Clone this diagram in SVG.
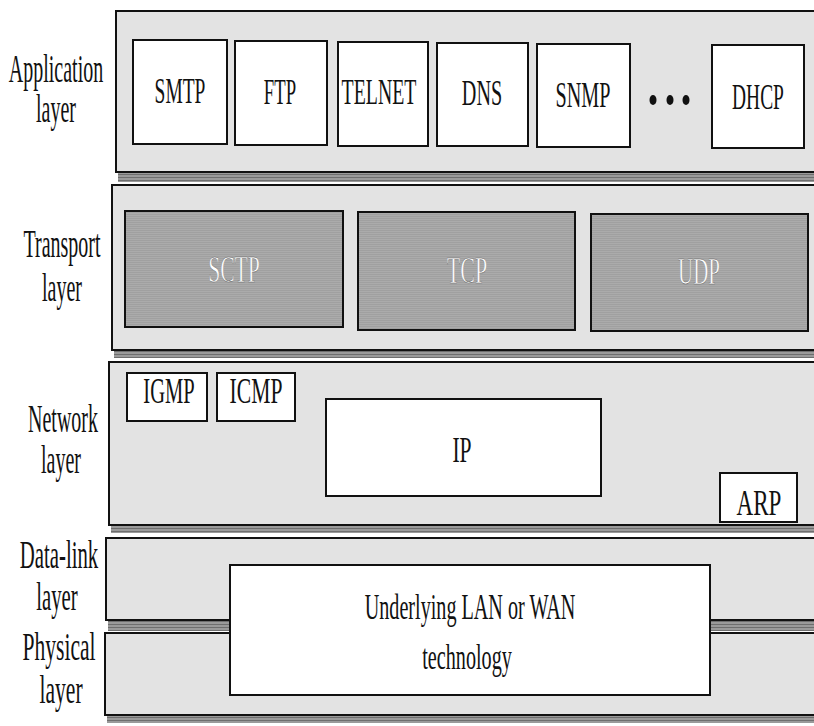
<svg xmlns="http://www.w3.org/2000/svg" width="814" height="726" viewBox="0 0 814 726">
<defs>
<pattern id="hatch" width="3" height="3" patternUnits="userSpaceOnUse">
<rect width="3" height="3" fill="#9a9a9a"/>
<rect width="3" height="1" fill="#6e6e6e"/>
</pattern>
<pattern id="dark" width="4" height="2" patternUnits="userSpaceOnUse">
<rect width="4" height="2" fill="#ababab"/>
<rect width="4" height="1" fill="#a0a0a0"/>
</pattern>
</defs>
<style>
.band{fill:#e3e3e3;stroke:#111;stroke-width:2}
.shadow{fill:url(#hatch);stroke:none}
.box{fill:#fff;stroke:#111;stroke-width:2}
.dbox{fill:url(#dark);stroke:#111;stroke-width:2}
.lbl{font-family:"Liberation Serif","Times New Roman",serif;font-size:40px;fill:#111;text-anchor:middle}
.t{font-family:"Liberation Serif","Times New Roman",serif;font-size:36px;fill:#111;text-anchor:middle}
.tw{font-family:"Liberation Serif","Times New Roman",serif;font-size:38px;fill:#fff;stroke:#666;stroke-width:0.5;text-anchor:middle}
</style>
<rect width="814" height="726" fill="#fff"/>

<g id="application-layer">
<rect class="shadow" x="118" y="172" width="700" height="10"/>
<rect class="band" x="116" y="11" width="704" height="161"/>
<text class="lbl" transform="scale(0.5,1)"><tspan x="112" y="82">Application</tspan><tspan x="112" y="122">layer</tspan></text>
</g>
<g id="smtp"><rect class="box" x="133" y="40" width="94" height="104"/><text class="t" transform="translate(180,103) scale(0.54,1)">SMTP</text></g>
<g id="ftp"><rect class="box" x="235" y="41" width="92" height="104"/><text class="t" transform="translate(280,104) scale(0.52,1)">FTP</text></g>
<g id="telnet"><rect class="box" x="338" y="42" width="90" height="104"/><text class="t" transform="translate(379,104) scale(0.55,1)">TELNET</text></g>
<g id="dns"><rect class="box" x="437" y="43" width="91" height="103"/><text class="t" transform="translate(482,105) scale(0.56,1)">DNS</text></g>
<g id="snmp"><rect class="box" x="537" y="44" width="93" height="103"/><text class="t" transform="translate(583,107) scale(0.56,1)">SNMP</text></g>
<g id="ellipsis" fill="#111"><ellipse cx="653" cy="100" rx="3.5" ry="5"/><ellipse cx="670" cy="100" rx="3.5" ry="5"/><ellipse cx="686" cy="100" rx="3.5" ry="5"/></g>
<g id="dhcp"><rect class="box" x="712" y="45" width="92" height="103"/><text class="t" transform="translate(758,109) scale(0.54,1)">DHCP</text></g>

<g id="transport-layer">
<rect class="shadow" x="114" y="350" width="704" height="8"/>
<rect class="band" x="112" y="185" width="708" height="165"/>
<text class="lbl" transform="scale(0.5,1)"><tspan x="124" y="257">Transport</tspan><tspan x="124" y="301">layer</tspan></text>
</g>
<g id="sctp"><rect class="dbox" x="125" y="211" width="218" height="116"/><text class="tw" transform="translate(234,282) scale(0.57,1)">SCTP</text></g>
<g id="tcp"><rect class="dbox" x="358" y="212" width="217" height="118"/><text class="tw" transform="translate(467,283) scale(0.58,1)">TCP</text></g>
<g id="udp"><rect class="dbox" x="591" y="214" width="217" height="117"/><text class="tw" transform="translate(699,284) scale(0.55,1)">UDP</text></g>

<g id="network-layer">
<rect class="shadow" x="111" y="525" width="707" height="8"/>
<rect class="band" x="109" y="362" width="711" height="163"/>
<text class="lbl" transform="scale(0.5,1)"><tspan x="126" y="432">Network</tspan><tspan x="122" y="473">layer</tspan></text>
</g>
<g id="igmp"><rect class="box" x="127" y="373" width="80" height="48"/><text class="t" transform="translate(169,403) scale(0.57,1)">IGMP</text></g>
<g id="icmp"><rect class="box" x="217" y="373" width="78" height="48"/><text class="t" transform="translate(256,403) scale(0.6,1)">ICMP</text></g>
<g id="ip"><rect class="box" x="326" y="399" width="275" height="97"/><text class="t" transform="translate(462,462) scale(0.6,1)">IP</text></g>
<g id="arp"><rect class="box" x="720" y="473" width="77" height="49"/><text class="t" transform="translate(759,515) scale(0.64,1)">ARP</text></g>

<g id="data-link-layer">
<rect class="shadow" x="108" y="620" width="710" height="11"/>
<rect class="band" x="106" y="538" width="714" height="82"/>
<text class="lbl" transform="scale(0.52,1)"><tspan x="113.5" y="568">Data-link</tspan><tspan x="109.6" y="610">layer</tspan></text>
</g>
<g id="physical-layer">
<rect class="shadow" x="107" y="715" width="711" height="8"/>
<rect class="band" x="105" y="633" width="715" height="82"/>
<text class="lbl" transform="scale(0.54,1)"><tspan x="109.3" y="660">Physical</tspan><tspan x="113" y="703">layer</tspan></text>
</g>
<g id="underlying">
<rect class="box" x="230" y="565" width="480" height="130"/>
<text class="t" transform="scale(0.56,1)"><tspan x="839.3" y="619">Underlying LAN or WAN</tspan><tspan x="834" y="669">technology</tspan></text>
</g>
<g id="connectors"/>
</svg>
